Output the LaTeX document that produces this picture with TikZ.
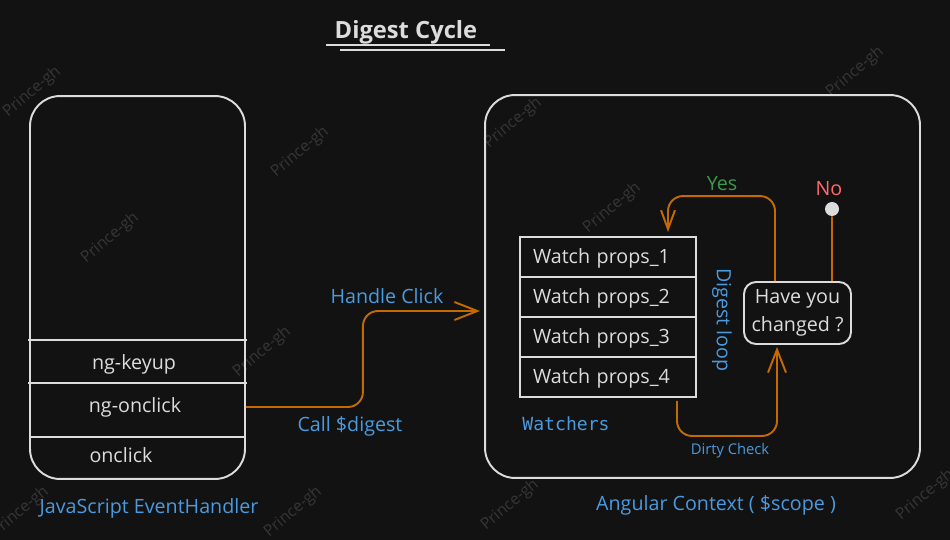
\documentclass[tikz,border=0pt]{standalone}
\usepackage{fontspec}
\setmainfont{Open Sans}
\setmonofont{DejaVu Sans Mono}
\usetikzlibrary{arrows.meta,positioning}

\definecolor{canvas}{HTML}{121212}
\definecolor{chalk}{HTML}{DCDCDC}
\definecolor{wire}{HTML}{C46A00}
\definecolor{sky}{HTML}{4A9AE0}
\definecolor{leaf}{HTML}{3A9A4A}
\definecolor{coral}{HTML}{FF6B6B}
\definecolor{stamp}{HTML}{363636}

\begin{document}
\begin{tikzpicture}[x=0.02cm, y=-0.02cm,
    panel/.style={draw=chalk, line width=1.1pt, rounded corners=0.6cm, minimum height=7.66cm},
    sep/.style={draw=chalk, line width=1.1pt},
    item/.style={text=chalk, font=\fontsize{11.2}{14}\selectfont},
    row/.style={draw=chalk, line width=1.1pt, outer sep=0pt, minimum width=3.52cm, minimum height=0.8cm,
        text width=3.0cm, inner xsep=0.26cm, align=left, text=chalk, font=\fontsize{11.2}{14}\selectfont,
        text height=0.95em, text depth=0.23em},
    ask/.style={draw=chalk, line width=1.1pt, rounded corners=0.24cm, minimum width=2.14cm, minimum height=1.24cm,
        inner sep=1pt, align=center, text=chalk, font=\fontsize{11.2}{15.9}\selectfont},
    note/.style={text=sky, font=\fontsize{11.2}{14}\selectfont},
    flow/.style={draw=wire, line width=1.1pt, rounded corners=0.3cm, -{Straight Barb[length=0.46cm, width=0.36cm]}},
    stem/.style={draw=wire, line width=1.1pt},
    watermark/.style={text=stamp, rotate=40, font=\fontsize{9}{10}\selectfont}]

\fill[canvas] (0,0) rectangle (950,540);
\useasboundingbox (0,0) rectangle (950,540);

\foreach \x/\y [count=\i] in {32/92, 300/152, 110/238, 262/352, 513/123, 612/208, 855/72, 20/512, 293/512, 510/505, 925/495}
    \node[watermark] (wm\i) at (\x,\y) {Prince-gh};

\node[text=chalk, font=\fontsize{13.5}{16}\bfseries\selectfont] (ttl) at (406,32) {Digest Cycle};
\draw[sep] (326,45) -- (490,45);
\draw[sep] (340,50) -- (505,50);

\node[panel, minimum width=4.3cm] (jsbox) at (137.5,287.5) {};
\draw[sep] (28,340) -- (247,340);
\draw[sep] (28,383) -- (247,383);
\draw[sep] (30,437) -- (245,437);
\node[item] (keyup) at (134,364) {ng-keyup};
\node[item] (onclk) at (135,407) {ng-onclick};
\node[item] (plain) at (121,455) {onclick};
\node[note] (jslbl) at (149,508) {JavaScript EventHandler};

\node[panel, minimum width=8.7cm] (ngbox) at (702.5,286.5) {};
\node[note] (nglbl) at (716,505) {Angular Context ( \$scope )};

\node[row] (w1) at (608,257) {Watch props\_1};
\node[row, below=0pt of w1] (w2) {Watch props\_2};
\node[row, below=0pt of w2] (w3) {Watch props\_3};
\node[row, below=0pt of w3] (w4) {Watch props\_4};
\node[text=sky, font=\ttfamily\fontsize{10.3}{12}\selectfont] (wlbl) at (566,424) {Watchers};
\node[note, rotate=-90] (loop) at (722,320) {Digest loop};

\node[ask] (dec) at (797.5,313) {Have you\\changed ?};
\node[circle, fill=chalk, minimum size=0.28cm, inner sep=0pt] (nodot) at (832,209) {};

\coordinate (hcEnd) at (480,311);
\draw[flow] (jsbox.east |- onclk) -- ++(117,0) |- (hcEnd);
\node[note] (hclbl) at (387,296) {Handle Click};
\node[note] (cdlbl) at (350,426) {Call \$digest};

\draw[flow, -{Straight Barb[length=0.38cm, width=0.28cm]}] ([xshift=-0.45cm]dec.north) -- ++(0,-85)
    -| ([xshift=-0.56cm, yshift=0.1cm]w1.north east);
\node[text=leaf, font=\fontsize{11.2}{14}\selectfont] (yes) at (722,184) {Yes};

\draw[stem] ([xshift=0.69cm]dec.north) -- (nodot);
\node[text=coral, font=\fontsize{11.2}{14}\selectfont] (no) at (829,189) {No};

\draw[flow] ([xshift=-0.38cm, yshift=-0.08cm]w4.south east) -- ++(0,35)
    -| ([xshift=-0.41cm, yshift=-0.04cm]dec.south);
\node[text=sky, font=\fontsize{8.4}{10}\selectfont] (dirty) at (730,451) {Dirty Check};

\end{tikzpicture}
\end{document}
